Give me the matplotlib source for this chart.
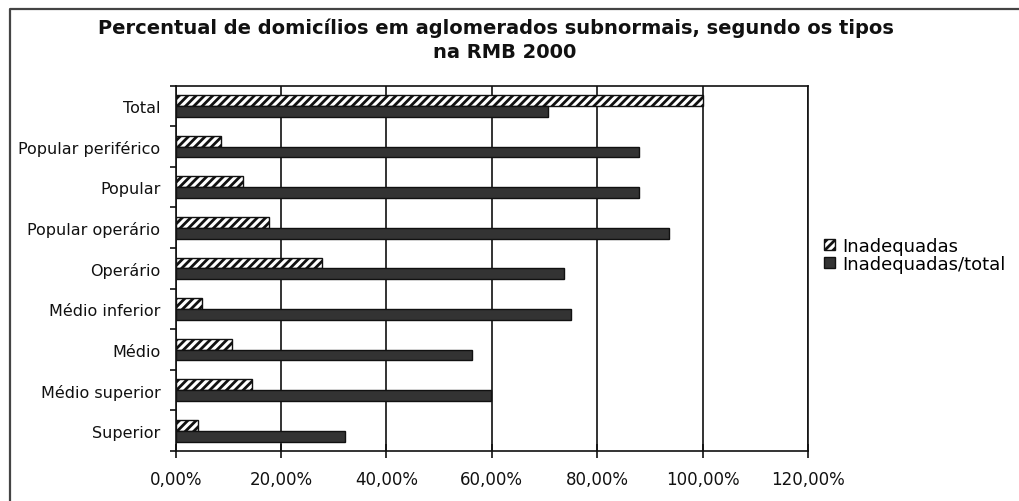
"""
Percentual de domicilios em aglomerados subnormais por tipo (RMB 2000),
barras horizontais agrupadas no estilo de grafico do Excel.
"""
import numpy as np
import matplotlib
matplotlib.use("Agg")
import matplotlib.pyplot as plt
from matplotlib.patches import Patch
from matplotlib.lines import Line2D

categorias = ["Total", "Popular periférico", "Popular", "Popular operário",
              "Operário", "Médio inferior", "Médio", "Médio superior",
              "Superior"]
inadequadas = [100.0, 8.6, 12.8, 17.7, 27.8, 4.9, 10.6, 14.4, 4.2]
inadequadas_total = [70.6, 87.9, 87.9, 93.6, 73.6, 75.1, 56.2, 59.8, 32.1]
xticks = [0, 20, 40, 60, 80, 100, 120]

plt.rcParams["font.family"] = "DejaVu Sans"
plt.rcParams["hatch.linewidth"] = 2.0
plt.rcParams["hatch.color"] = "#111111"

W, H = 1019, 502
fig = plt.figure(figsize=(W / 100, H / 100), dpi=100)
ax = fig.add_axes([175.7 / W, 1 - 452 / H, (808 - 175.7) / W, (452 - 86.7) / H])

y = np.arange(len(categorias))
h = 0.267
ax.barh(y - h / 2, inadequadas, height=h, color="white", hatch="////",
        edgecolor="#111111", linewidth=1.0, zorder=3)
ax.barh(y + h / 2, inadequadas_total, height=h, color="#333333",
        edgecolor="#111111", linewidth=1.0, zorder=3)

ax.set_xlim(0, 120)
ax.set_ylim(len(categorias) - 0.5, -0.5)

ax.set_xticks(xticks)
ax.set_xticklabels([f"{v:.2f}%".replace(".", ",") for v in xticks])
ax.tick_params(axis="x", direction="inout", length=10, width=1.2,
               pad=9, labelsize=12, colors="#111111")

ax.set_yticks(y)
ax.set_yticklabels(categorias)
ax.set_yticks(np.arange(len(categorias) + 1) - 0.5, minor=True)
ax.tick_params(axis="y", which="major", length=0, pad=11, labelsize=11.5,
               colors="#111111")
ax.tick_params(axis="y", which="minor", direction="out", length=4, width=1.2,
               color="#111111")

ax.grid(axis="x", color="#111111", linewidth=1.2, zorder=1)
for s in ax.spines.values():
    s.set_color("#111111")
    s.set_linewidth(1.2)

# titulo em duas linhas
fig.text(0.487, 1 - 28 / H, "Percentual de domicílios em aglomerados "
         "subnormais, segundo os tipos", ha="center", va="center",
         fontsize=14, fontweight="bold", color="#111111")
fig.text(0.495, 1 - 53 / H, "na RMB 2000", ha="center", va="center",
         fontsize=14, fontweight="bold", color="#111111")

handles = [Patch(facecolor="white", hatch="////", edgecolor="#111111"),
           Patch(facecolor="#333333", edgecolor="#111111")]
fig.legend(handles, ["Inadequadas", "Inadequadas/total"],
           loc="center left", bbox_to_anchor=(824 / W, 1 - 256 / H),
           frameon=False, fontsize=13, handlelength=0.6, handleheight=0.6,
           handletextpad=0.4, labelspacing=0.0, borderpad=0,
           borderaxespad=0)

# moldura do grafico (so esquerda e topo aparecem)
fig.add_artist(Line2D([9.5 / W, 9.5 / W, 1], [0, 1 - 10 / H, 1 - 10 / H],
                      color="#444444", linewidth=1.6,
                      transform=fig.transFigure))

fig.savefig("out.png", dpi=100)
